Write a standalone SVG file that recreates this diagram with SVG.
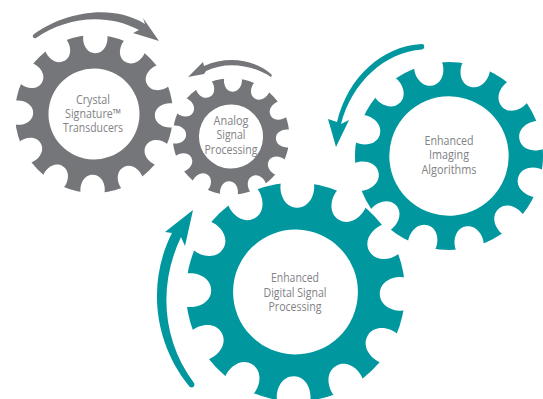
<svg xmlns="http://www.w3.org/2000/svg" width="543" height="399" viewBox="0 0 543 399">
<style>
.g{fill:#757679}.t{fill:#00979f}
text{font-family:"Open Sans","Liberation Sans",sans-serif;font-size:12.500px;fill:#808285;text-anchor:middle;font-weight:400}
</style>
<defs>
<g id="notch"><path d="M-15-105L-15-100C-17-91-12-77 0-77C12-77 17-91 15-100L15-105Z"/></g>
<g id="notches">
<use href="#notch"/><use href="#notch" transform="rotate(30)"/><use href="#notch" transform="rotate(60)"/><use href="#notch" transform="rotate(90)"/><use href="#notch" transform="rotate(120)"/><use href="#notch" transform="rotate(150)"/><use href="#notch" transform="rotate(180)"/><use href="#notch" transform="rotate(210)"/><use href="#notch" transform="rotate(240)"/><use href="#notch" transform="rotate(270)"/><use href="#notch" transform="rotate(300)"/><use href="#notch" transform="rotate(330)"/>
</g>
<mask id="m1" maskUnits="userSpaceOnUse" x="-120" y="-120" width="240" height="240"><rect x="-120" y="-120" width="240" height="240" fill="#fff"/><circle r="57.600" fill="#000"/><use href="#notches" fill="#000"/></mask>
<mask id="m2" maskUnits="userSpaceOnUse" x="-120" y="-120" width="240" height="240"><rect x="-120" y="-120" width="240" height="240" fill="#fff"/><circle r="55" fill="#000"/><use href="#notches" fill="#000"/></mask>
<mask id="m3" maskUnits="userSpaceOnUse" x="-120" y="-120" width="240" height="240"><rect x="-120" y="-120" width="240" height="240" fill="#fff"/><circle r="57" fill="#000"/><use href="#notches" fill="#000"/></mask>
<mask id="m4" maskUnits="userSpaceOnUse" x="-120" y="-120" width="240" height="240"><rect x="-120" y="-120" width="240" height="240" fill="#fff"/><circle r="63.500" fill="#000"/><use href="#notches" fill="#000"/></mask>
</defs>
<rect width="543" height="399" fill="#fff"/>
<g id="gear-crystal">
<circle class="g" r="100" mask="url(#m1)" transform="translate(94 114) scale(.79) rotate(1)"/>
<text x="93" y="104" textLength="34" lengthAdjust="spacingAndGlyphs">Crystal</text><text x="93" y="118" textLength="56" lengthAdjust="spacingAndGlyphs">Signature™</text><text x="93" y="132" textLength="60" lengthAdjust="spacingAndGlyphs">Transducers</text>
</g>
<g id="gear-analog">
<circle class="g" r="100" mask="url(#m2)" transform="translate(231 136.500) scale(.583) rotate(2)"/>
<text x="231" y="125" textLength="35" lengthAdjust="spacingAndGlyphs">Analog</text><text x="231" y="139" textLength="29" lengthAdjust="spacingAndGlyphs">Signal</text><text x="231" y="154" textLength="53" lengthAdjust="spacingAndGlyphs">Processing</text>
</g>
<g id="gear-imaging">
<circle class="t" r="100" mask="url(#m4)" transform="translate(449 156) scale(.94) rotate(17)"/>
<text x="449" y="145" textLength="49" lengthAdjust="spacingAndGlyphs">Enhanced</text><text x="449" y="159" textLength="40" lengthAdjust="spacingAndGlyphs">Imaging</text><text x="449" y="174" textLength="55" lengthAdjust="spacingAndGlyphs">Algorithms</text>
</g>
<g id="gear-digital">
<circle class="t" r="100" mask="url(#m3)" transform="translate(295.500 292) scale(1.095) rotate(1)"/>
<text x="295" y="282" textLength="48" lengthAdjust="spacingAndGlyphs">Enhanced</text><text x="295" y="297" textLength="63" lengthAdjust="spacingAndGlyphs">Digital Signal</text><text x="295" y="311" textLength="53" lengthAdjust="spacingAndGlyphs">Processing</text>
</g>
<g id="connectors">
<path class="g" d="M33 35C60 14 110 2 145 24L143 18L159 41L133 33L139 30C105 12 65 18 36 38C34 39 32 37 33 35Z"/>
<path class="g" d="M271 74C255 60 228 55 204 66L203 62L188 77L204 74L206 71C228 60 255 66 271 77C272 76 272 75 271 74Z"/>
<path class="t" d="M422 44C382 46 348 77 337 122L328 119L336 147L349 120L341 124C352 82 385 52 422 49.500C425 49 425 44 422 44Z"/>
<path class="t" d="M189 386C152 340 148 280 172 233L165 232L193 210L185 246L181 237C158 285 162 340 194 383C196 387 191 389 189 386Z"/>
</g>
</svg>
